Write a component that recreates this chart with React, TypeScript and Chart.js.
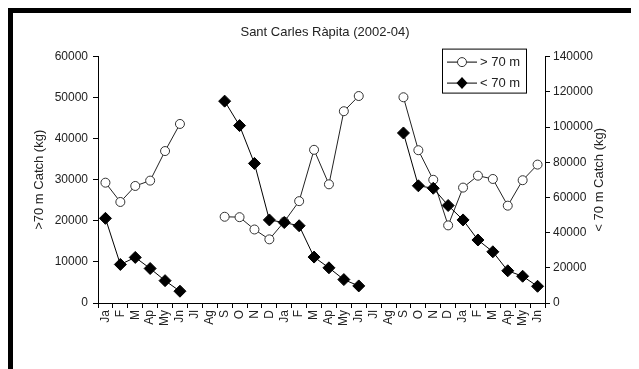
import React, { useEffect, useRef } from "react";
import { Chart, registerables } from "chart.js";

Chart.register(...registerables);

const categories = [
  "Ja", "F", "M", "Ap", "My", "Jn", "Jl", "Ag", "S", "O", "N", "D",
  "Ja", "F", "M", "Ap", "My", "Jn", "Jl", "Ag", "S", "O", "N", "D",
  "Ja", "F", "M", "Ap", "My", "Jn",
];

const deepCatch = [
  29300, 24600, 28500, 29800, 37000, 43600, null, null, 21000, 20900, 17900, 15500,
  19800, 24800, 37300, 28900, 46700, 50400, null, null, 50100, 37200, 30000, 18900,
  28100, 31000, 30200, 23700, 29900, 33700,
];

const shallowCatch = [
  48100, 21900, 25900, 19600, 12700, 6700, null, null, 114700, 100800, 79300, 47200,
  45700, 43900, 26100, 20000, 13300, 9700, null, null, 96600, 66600, 65200, 55400,
  47200, 35800, 29100, 18300, 15200, 9500,
];

const seriesNames = ["> 70 m", "< 70 m"];
const titleText = "Sant Carles Ràpita (2002-04)";
const leftTitle = ">70 m Catch (kg)";
const rightTitle = "< 70 m Catch (kg)";

const FONT = "'Liberation Sans', Arial, sans-serif";
const W = 624;
const H = 360;

const legendPlugin = {
  id: "boxLegend",
  afterDraw(chart: any) {
    const ctx = chart.ctx;
    const ca = chart.chartArea;
    const bw = 84;
    const bh = 44;
    const x0 = ca.right - 19 - bw;
    const y0 = ca.top - 8;
    ctx.save();
    ctx.fillStyle = "#fff";
    ctx.fillRect(x0, y0, bw, bh);
    ctx.strokeStyle = "#000";
    ctx.lineWidth = 1;
    ctx.strokeRect(x0 + 0.5, y0 + 0.5, bw, bh);
    const rows = [y0 + 13, y0 + 34];
    rows.forEach((ry, i) => {
      ctx.beginPath();
      ctx.strokeStyle = "#000";
      ctx.moveTo(x0 + 5, ry + 0.5);
      ctx.lineTo(x0 + 35, ry + 0.5);
      ctx.stroke();
      const mx = x0 + 20;
      if (i === 0) {
        ctx.beginPath();
        ctx.arc(mx, ry + 0.5, 4.5, 0, Math.PI * 2);
        ctx.fillStyle = "#fff";
        ctx.fill();
        ctx.strokeStyle = "#333";
        ctx.stroke();
      } else {
        ctx.beginPath();
        ctx.moveTo(mx, ry - 5.5);
        ctx.lineTo(mx + 5.5, ry + 0.5);
        ctx.lineTo(mx, ry + 6.5);
        ctx.lineTo(mx - 5.5, ry + 0.5);
        ctx.closePath();
        ctx.fillStyle = "#000";
        ctx.fill();
      }
      ctx.fillStyle = "#222";
      ctx.font = `13px ${FONT}`;
      ctx.textBaseline = "middle";
      ctx.textAlign = "left";
      ctx.fillText(seriesNames[i], x0 + 38, ry + 1);
    });

    // right axis title, reading bottom to top
    ctx.save();
    ctx.translate(ca.right + 54, (ca.top + ca.bottom) / 2);
    ctx.rotate(-Math.PI / 2);
    ctx.fillStyle = "#222";
    ctx.font = `13px ${FONT}`;
    ctx.textAlign = "center";
    ctx.textBaseline = "middle";
    ctx.fillText(rightTitle, 0, 0);
    ctx.restore();

    ctx.restore();
  },
};

export default function App() {
  const ref = useRef<HTMLCanvasElement | null>(null);

  useEffect(() => {
    if (!ref.current) return;
    const chart = new Chart(ref.current, {
      type: "line",
      data: {
        labels: categories,
        datasets: [
          {
            label: seriesNames[0],
            data: deepCatch,
            yAxisID: "y",
            borderColor: "#222",
            borderWidth: 1,
            pointStyle: "circle",
            pointRadius: 4.5,
            pointBackgroundColor: "#fff",
            pointBorderColor: "#333",
            pointBorderWidth: 1,
            spanGaps: false,
            order: 2,
          },
          {
            label: seriesNames[1],
            data: shallowCatch,
            yAxisID: "y1",
            borderColor: "#000",
            borderWidth: 1,
            pointStyle: "rectRot",
            pointRadius: 6,
            pointBackgroundColor: "#000",
            pointBorderColor: "#000",
            pointBorderWidth: 1,
            spanGaps: false,
            order: 1,
          },
        ],
      },
      options: {
        responsive: false,
        animation: false,
        devicePixelRatio: 1,
        layout: { padding: { top: 10, left: 0, right: 0, bottom: 0 } },
        plugins: {
          legend: { display: false },
          tooltip: { enabled: false },
          title: {
            display: true,
            text: titleText,
            color: "#222",
            font: { family: FONT, size: 13, weight: "normal" },
            padding: { top: 2, bottom: 16 },
          },
        },
        scales: {
          x: {
            type: "category",
            offset: true,
            grid: {
              offset: true,
              drawOnChartArea: false,
              drawTicks: true,
              tickLength: 5,
              color: "#000",
            },
            border: { display: true, color: "#000" },
            ticks: {
              autoSkip: false,
              maxRotation: 90,
              minRotation: 90,
              padding: 2,
              color: "#222",
              font: { family: FONT, size: 12 },
            },
            afterFit(scale: any) {
              scale.height = 70;
            },
          },
          y: {
            type: "linear",
            position: "left",
            min: 0,
            max: 60000,
            grid: {
              drawOnChartArea: false,
              drawTicks: true,
              tickLength: 5,
              color: "#000",
            },
            border: { display: true, color: "#000" },
            ticks: {
              stepSize: 10000,
              padding: 5,
              color: "#222",
              font: { family: FONT, size: 12 },
              callback: (v: any) => String(v),
            },
            title: {
              display: true,
              text: leftTitle,
              color: "#222",
              font: { family: FONT, size: 13 },
              padding: { top: 19, bottom: 0 },
            },
            afterFit(scale: any) {
              scale.width = 85;
            },
          },
          y1: {
            type: "linear",
            position: "right",
            min: 0,
            max: 140000,
            grid: {
              drawOnChartArea: false,
              drawTicks: true,
              tickLength: 5,
              color: "#000",
            },
            border: { display: true, color: "#000" },
            ticks: {
              stepSize: 20000,
              padding: 3,
              color: "#222",
              font: { family: FONT, size: 12 },
              callback: (v: any) => String(v),
            },
            title: { display: false },
            afterFit(scale: any) {
              scale.width = 92;
            },
          },
        },
      },
      plugins: [legendPlugin],
    });
    return () => chart.destroy();
  }, []);

  return (
    <div
      style={{
        border: "5px solid #000",
        width: W,
        height: H,
        background: "#fff",
      }}
    >
      <canvas ref={ref} width={W} height={H} style={{ display: "block" }} />
    </div>
  );
}
